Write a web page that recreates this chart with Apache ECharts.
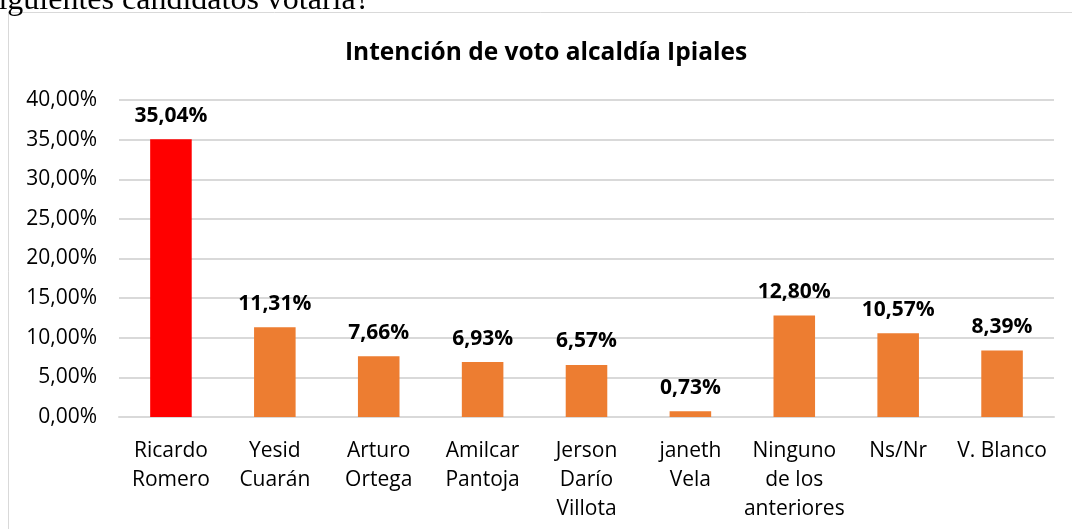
<!DOCTYPE html>
<html lang="es">
<head>
    <meta charset="UTF-8">
    <script src="https://cdn.jsdelivr.net/npm/echarts@6/dist/echarts.min.js"></script>
    <style>
        html, body { margin: 0; padding: 0; background: #fff; }
    </style>
</head>
<body>
<div id="chart" style="width: 1072px;height: 529px;"></div>
<script>
    // datos de la encuesta
    var candidatos = ["Ricardo\nRomero", "Yesid\nCuarán", "Arturo\nOrtega", "Amilcar\nPantoja", "Jerson\nDarío\nVillota", "janeth\nVela", "Ninguno\nde los\nanteriores", "Ns/Nr", "V. Blanco"];
    var votos = [35.04, 11.31, 7.66, 6.93, 6.57, 0.73, 12.80, 10.57, 8.39];
    var colores = ["#FF0000", "#ED7D31", "#ED7D31", "#ED7D31", "#ED7D31", "#ED7D31", "#ED7D31", "#ED7D31", "#ED7D31"];
    var ticksY = [0, 5, 10, 15, 20, 25, 30, 35, 40];

    var fuente = '"Open Sans", Lato, sans-serif';
    function pct(v) {
        return v.toFixed(2).replace('.', ',') + '%';
    }

    var myChart = echarts.init(document.getElementById('chart'));
    var option = {
        backgroundColor: '#fff',
        animation: false,
        title: {
            text: 'Intención de voto alcaldía Ipiales',
            left: 340,
            top: 36,
            textStyle: { fontFamily: fuente, fontSize: 24.5, fontWeight: 'bold', color: '#000' }
        },
        graphic: [
            {
                type: 'rect',
                shape: { x: 8.5, y: 12.5, width: 1100, height: 600 },
                style: { fill: 'none', stroke: '#d9d9d9', lineWidth: 1 }
            },
            {
                type: 'text',
                left: -14,
                top: -15,
                style: { text: 'siguientes candidatos votaría?', font: '32px "Liberation Serif", serif', fill: '#000' }
            }
        ],
        grid: { left: 119, right: 18, top: 100, bottom: 112 },
        xAxis: {
            type: 'category',
            data: candidatos,
            axisLine: { lineStyle: { color: '#d9d9d9', width: 2 } },
            axisTick: { show: false },
            axisLabel: { fontFamily: fuente, fontSize: 21, color: '#000', lineHeight: 29, margin: 20, interval: 0 }
        },
        yAxis: {
            type: 'value',
            min: 0,
            max: 40,
            interval: 5,
            axisLine: { show: false },
            axisTick: { show: false },
            splitLine: { lineStyle: { color: '#d9d9d9', width: 2 } },
            axisLabel: {
                fontFamily: fuente, fontSize: 21, color: '#000', margin: 22,
                formatter: function (v) { return ticksY.indexOf(v) >= 0 ? pct(v) : ''; }
            }
        },
        series: [{
            type: 'bar',
            data: votos.map(function (v, i) { return { value: v, itemStyle: { color: colores[i] } }; }),
            barWidth: '40%',
            label: {
                show: true,
                position: 'top',
                distance: 13,
                fontFamily: fuente,
                fontSize: 21,
                fontWeight: 'bold',
                color: '#000',
                formatter: function (p) { return pct(p.value); }
            }
        }]
    };
    myChart.setOption(option);
</script>
</body>
</html>
